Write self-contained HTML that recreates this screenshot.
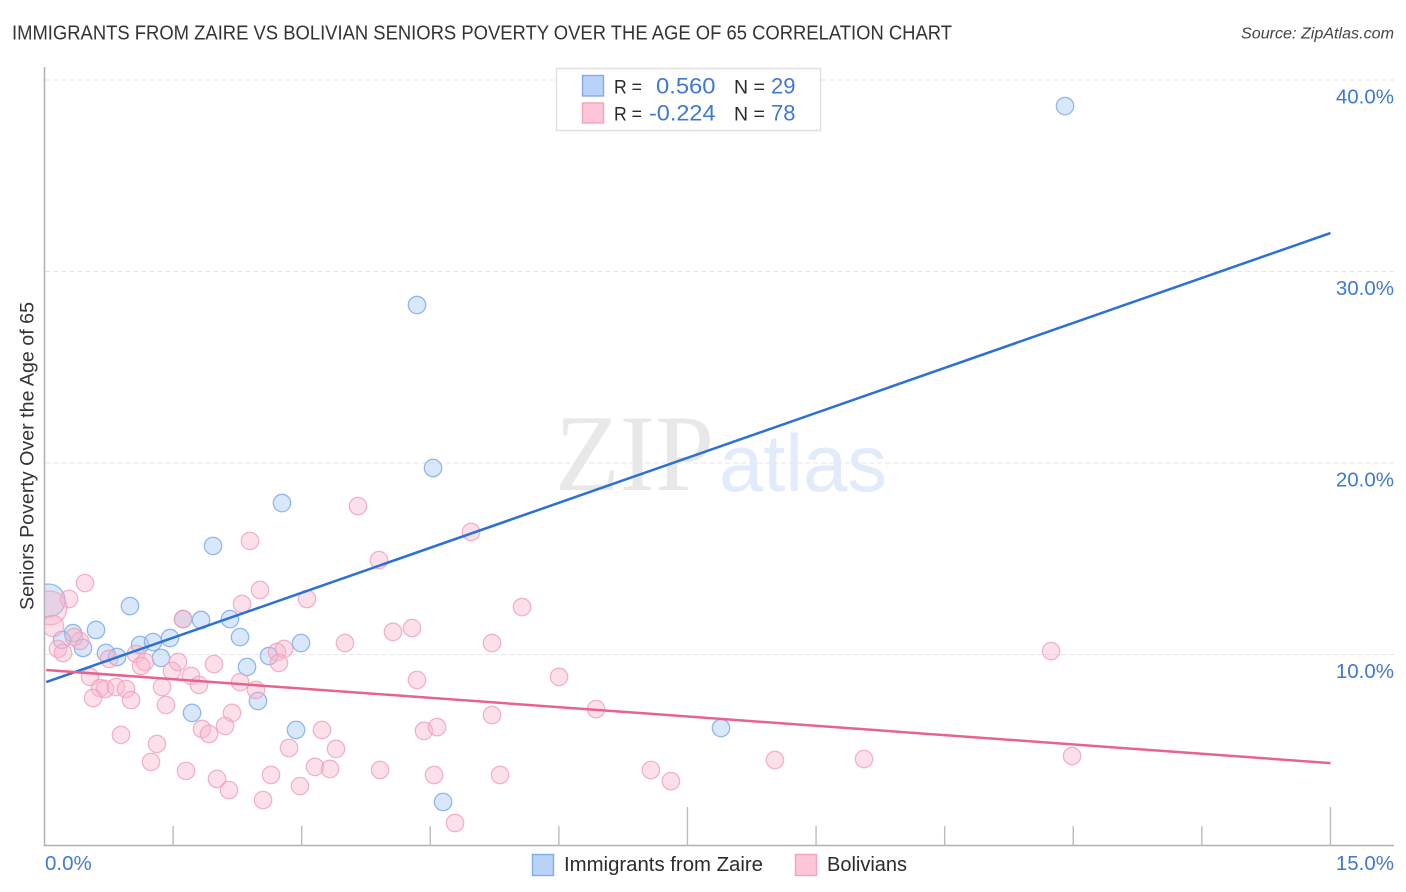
<!DOCTYPE html>
<html lang="en">
<head>
<meta charset="utf-8">
<title>Immigrants from Zaire vs Bolivian Seniors Poverty Correlation Chart</title>
<style>
html,body{margin:0;padding:0;background:#fff;width:1406px;height:892px;overflow:hidden}
svg{display:block}
text{font-family:"Liberation Sans",sans-serif}
</style>
</head>
<body>
<svg id="chart" xmlns="http://www.w3.org/2000/svg" width="1406" height="892" viewBox="0 0 1406 892">
  <defs>
    <clipPath id="plot-clip"><rect x="45" y="60" width="1350" height="785"/></clipPath>
  </defs>
  <rect x="0" y="0" width="1406" height="892" fill="#ffffff"/>
  <text x="12" y="39.5" font-size="20" fill="#333333" textLength="940" lengthAdjust="spacingAndGlyphs">IMMIGRANTS FROM ZAIRE VS BOLIVIAN SENIORS POVERTY OVER THE AGE OF 65 CORRELATION CHART</text>
  <text x="1241" y="38.5" font-size="15.5" font-style="italic" fill="#444" textLength="153" lengthAdjust="spacingAndGlyphs">Source: ZipAtlas.com</text>

  <g>
    <text x="555" y="490" font-size="109" fill="#e8e8e8" textLength="159" lengthAdjust="spacingAndGlyphs" style="font-family:'Liberation Serif',serif">ZIP</text>
    <text x="719" y="491" font-size="81" fill="#e2ebf9" textLength="168" lengthAdjust="spacingAndGlyphs">atlas</text>
  </g>

  <g id="grid"></g>
  <g id="axes"></g>
  <g id="points-blue" clip-path="url(#plot-clip)"></g>
  <g id="points-pink" clip-path="url(#plot-clip)"></g>
  <g id="trends"></g>

  <text transform="translate(33.5,456) rotate(-90)" font-size="19.5" fill="#333333" text-anchor="middle" textLength="308" lengthAdjust="spacingAndGlyphs">Seniors Poverty Over the Age of 65</text>

  <g>
    <rect x="556.5" y="68.5" width="264" height="62" fill="#ffffff" fill-opacity="0.9" stroke="#e0e0e0" stroke-width="1.5"/>
    <rect x="582.5" y="75.5" width="21" height="20.5" fill="#b8d3f7" stroke="#7fabe6" stroke-width="1.4"/>
    <rect x="582.5" y="103" width="21" height="20" fill="#fcc6d8" stroke="#f3a3bd" stroke-width="1.4"/>
    <text x="614" y="93.5" font-size="19.5" fill="#2b2b2b" textLength="28" lengthAdjust="spacingAndGlyphs">R =</text>
    <text x="656" y="93.5" font-size="22" fill="#3f79d4" textLength="59.5" lengthAdjust="spacingAndGlyphs">0.560</text>
    <text x="734" y="93.5" font-size="19.5" fill="#2b2b2b">N =</text>
    <text x="771" y="93.5" font-size="22" fill="#3f79d4">29</text>
    <text x="614" y="120.5" font-size="19.5" fill="#2b2b2b" textLength="28" lengthAdjust="spacingAndGlyphs">R =</text>
    <text x="649" y="120.5" font-size="22" fill="#3f79d4" textLength="66.5" lengthAdjust="spacingAndGlyphs">-0.224</text>
    <text x="734" y="120.5" font-size="19.5" fill="#2b2b2b">N =</text>
    <text x="771" y="120.5" font-size="22" fill="#3f79d4">78</text>
  </g>

  <g>
    <rect x="532.5" y="854.5" width="21" height="21" fill="#b8d3f7" stroke="#7fabe6" stroke-width="1.4"/>
    <text x="564" y="871" font-size="20" fill="#2b2b2b" textLength="199" lengthAdjust="spacingAndGlyphs">Immigrants from Zaire</text>
    <rect x="795.5" y="854.5" width="21" height="21" fill="#fcc6d8" stroke="#f3a3bd" stroke-width="1.4"/>
    <text x="827" y="871" font-size="20" fill="#2b2b2b" textLength="80" lengthAdjust="spacingAndGlyphs">Bolivians</text>
  </g>
</svg>
<script>
const xTickValues = [0, 1.5, 3, 4.5, 6, 7.5, 9, 10.5, 12, 13.5, 15];
const xMajorTicks = [0, 7.5, 15];
const xTickLabels = ["0.0%", "15.0%"];
const yTickValues = [10, 20, 30, 40];
const yTickLabels = ["10.0%", "20.0%", "30.0%", "40.0%"];

const zaireX = [11.904, 4.345, 4.532, 2.770, 1.966, 0.997, 1.616, 1.826, 2.164, 0.601, 0.332, 0.204, 0.449, 1.114, 1.266, 1.464, 2.281, 2.992, 0.717, 0.846, 1.359, 2.619, 2.362, 2.490, 1.721, 2.934, 7.891, 4.649, 0.047];
const zaireY = [38.64, 28.25, 19.74, 17.91, 15.67, 12.53, 11.85, 11.80, 11.85, 11.28, 11.12, 10.76, 10.34, 10.50, 10.65, 10.86, 10.91, 10.60, 10.08, 9.87, 9.82, 9.92, 9.35, 7.57, 6.95, 6.06, 6.16, 2.30, 12.82];
const zaireWeight = [1, 1, 1, 1, 1, 1, 1, 1, 1, 1, 1, 1, 1, 1, 1, 1, 1, 1, 1, 1, 1, 1, 1, 1, 1, 1, 1, 1, 3.6];

const bolivianX = [0.472, 0.286, 0.064, 0.099, 2.514, 2.304, 3.062, 1.616, 0.414, 0.344, 0.157, 0.216, 1.067, 0.752, 1.172, 1.126, 1.557, 1.487, 1.977, 2.712, 2.794, 2.735, 1.709, 1.802, 2.281, 2.467, 0.531, 0.647, 0.706, 0.834, 0.951, 0.566, 1.009, 1.371, 1.417, 2.187, 2.106, 1.837, 1.919, 0.892, 1.312, 1.242, 1.651, 2.012, 2.152, 2.549, 2.642, 2.852, 2.980, 3.155, 3.237, 3.400, 3.330, 4.345, 6.002, 6.434, 5.220, 4.426, 4.579, 3.914, 4.544, 5.314, 4.789, 3.657, 3.902, 4.975, 2.397, 5.570, 4.287, 4.065, 3.505, 5.220, 11.741, 7.074, 7.307, 8.520, 9.559, 11.986];
const bolivianY = [13.73, 12.90, 12.43, 11.49, 13.37, 12.64, 12.90, 11.85, 10.71, 10.91, 10.29, 10.08, 10.03, 9.77, 9.61, 9.40, 9.61, 9.14, 9.50, 10.13, 10.29, 9.56, 8.88, 8.41, 8.56, 8.15, 8.83, 8.25, 8.20, 8.30, 8.20, 7.73, 7.62, 8.30, 7.36, 6.95, 6.27, 6.11, 5.85, 5.80, 5.33, 4.39, 3.92, 3.50, 2.92, 2.40, 3.71, 5.12, 3.13, 4.13, 6.06, 5.07, 4.02, 8.67, 8.83, 7.15, 6.84, 6.01, 6.21, 3.97, 3.71, 3.71, 1.20, 17.75, 14.93, 16.40, 15.93, 12.48, 11.38, 11.18, 10.60, 10.60, 10.18, 3.97, 3.39, 4.49, 4.54, 4.70];
const bolivianWeight = [1, 1, 3.8, 1.5, 1, 1, 1, 1, 1, 1, 1, 1, 1, 1, 1, 1, 1, 1, 1, 1, 1, 1, 1, 1, 1, 1, 1, 1, 1, 1, 1, 1, 1, 1, 1, 1, 1, 1, 1, 1, 1, 1, 1, 1, 1, 1, 1, 1, 1, 1, 1, 1, 1, 1, 1, 1, 1, 1, 1, 1, 1, 1, 1, 1, 1, 1, 1, 1, 1, 1, 1, 1, 1, 1, 1, 1, 1, 1];

const trendX = [0.02, 15];
const zaireTrendY = [8.56, 32.01];
const bolivianTrendY = [9.19, 4.33];

const NS = "http://www.w3.org/2000/svg";
const scaleX = v => 44.5 + v * 85.73;
const scaleY = v => 846 - v * 19.15;
const pointRadius = w => 8.7 * Math.sqrt(w);

function make(tag, attrs, parent) {
  const el = document.createElementNS(NS, tag);
  for (const k in attrs) el.setAttribute(k, attrs[k]);
  parent.appendChild(el);
  return el;
}

const grid = document.getElementById("grid");
const axes = document.getElementById("axes");

yTickValues.forEach((v, i) => {
  const line = make("line", {x1: 45, x2: 1394, y1: scaleY(v), y2: scaleY(v), stroke: "#e6e6e6", "stroke-width": 1, "stroke-dasharray": "5 3"}, grid);
  
  
  const label = make("text", {x: 1394, y: scaleY(v) + 23.5, "font-size": 20.5, fill: "#3f79d4", "text-anchor": "end"}, axes);
  label.textContent = yTickLabels[i];
  
  
});

const yAxis = make("line", {x1: 44.5, x2: 44.5, y1: 67, y2: 846, stroke: "#b0b0b0", "stroke-width": 1.5}, axes);


const xAxis = make("line", {x1: 44, x2: 1394, y1: 845.5, y2: 845.5, stroke: "#b0b0b0", "stroke-width": 1.5}, axes);



xTickValues.forEach(v => {
  if (v === 0) return;
  const top = xMajorTicks.includes(v) ? 807 : 826;
  const tick = make("line", {x1: scaleX(v), x2: scaleX(v), y1: top, y2: 845.5, stroke: "#bcbcbc", "stroke-width": 1.4}, axes);
  
  
});

const xLabelLeft = make("text", {x: 45, y: 870, "font-size": 20.5, fill: "#3f79d4"}, axes);
xLabelLeft.textContent = xTickLabels[0];


const xLabelRight = make("text", {x: 1394, y: 870, "font-size": 20.5, fill: "#3f79d4", "text-anchor": "end"}, axes);
xLabelRight.textContent = xTickLabels[1];



const blueGroup = document.getElementById("points-blue");
zaireX.forEach((x, i) => {
  const c = make("circle", {cx: scaleX(x), cy: scaleY(zaireY[i]), r: pointRadius(zaireWeight[i]), fill: "#a9c9f4", "fill-opacity": 0.45, stroke: "#7ba8e6", "stroke-opacity": 0.8, "stroke-width": 1.3}, blueGroup);
  
  
});

const pinkGroup = document.getElementById("points-pink");
bolivianX.forEach((x, i) => {
  const c = make("circle", {cx: scaleX(x), cy: scaleY(bolivianY[i]), r: pointRadius(bolivianWeight[i]), fill: "#f9b4cb", "fill-opacity": 0.42, stroke: "#f0a0bc", "stroke-opacity": 0.8, "stroke-width": 1.3}, pinkGroup);
  
  
});

const trends = document.getElementById("trends");
const blueTrend = make("line", {x1: scaleX(trendX[0]), x2: scaleX(trendX[1]), y1: scaleY(zaireTrendY[0]), y2: scaleY(zaireTrendY[1]), stroke: "#2a70d8", "stroke-width": 2.5}, trends);


const pinkTrend = make("line", {x1: scaleX(trendX[0]), x2: scaleX(trendX[1]), y1: scaleY(bolivianTrendY[0]), y2: scaleY(bolivianTrendY[1]), stroke: "#e8628f", "stroke-width": 2.5}, trends);


</script>
</body>
</html>
